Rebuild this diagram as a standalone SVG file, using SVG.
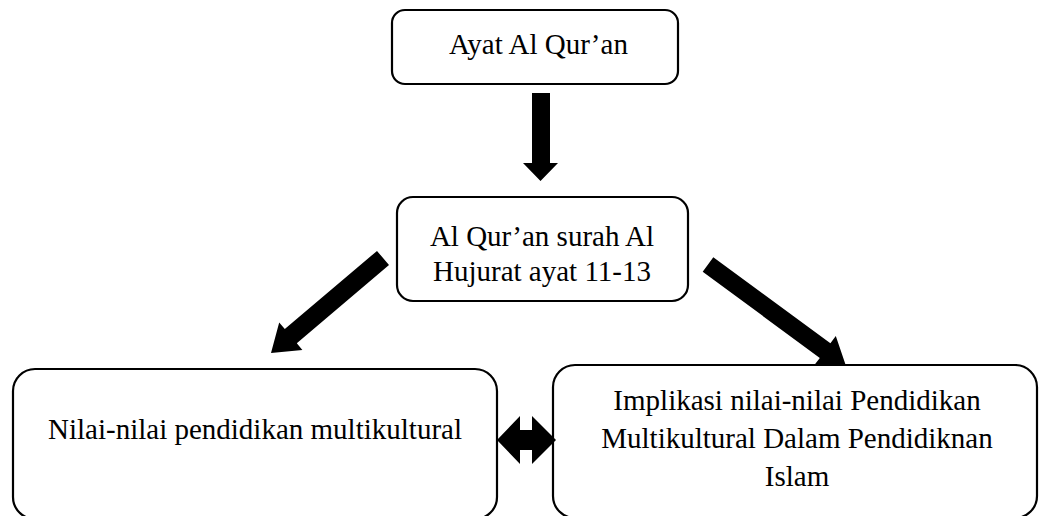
<svg xmlns="http://www.w3.org/2000/svg" width="1040" height="516" viewBox="0 0 1040 516">
<style>
.box{fill:#fff;stroke:#000;stroke-width:2.2}
.t{font-family:"Liberation Serif","Times New Roman",serif;font-size:29px;fill:#000;text-anchor:middle}
.arr{fill:#000;stroke:none}
</style>
<rect width="1040" height="516" fill="#fff"/>
<g id="node-ayat">
<rect class="box" x="392" y="10" width="286" height="74" rx="13"/>
<text class="t" x="538.5" y="54">Ayat Al Qur’an</text>
</g>
<g id="node-hujurat">
<rect class="box" x="397" y="197" width="291" height="104" rx="16"/>
<text class="t" x="542" y="246">Al Qur’an surah Al</text>
<text class="t" x="542" y="281">Hujurat ayat 11-13</text>
</g>
<g id="node-nilai">
<rect class="box" x="13" y="369" width="484" height="150" rx="22"/>
<text class="t" x="255" y="439">Nilai-nilai pendidikan multikultural</text>
</g>
<g id="node-implikasi">
<rect class="box" x="553" y="365" width="484" height="153" rx="22"/>
<text class="t" x="797" y="410">Implikasi nilai-nilai Pendidikan</text>
<text class="t" x="797" y="448">Multikultural Dalam Pendidiknan</text>
<text class="t" x="797" y="486">Islam</text>
</g>
<g id="connectors">
<polygon class="arr" points="532,93 550,93 550,163 558,163 540.5,181 523,163 532,163"/>
<polygon class="arr" points="377,250.9 284.8,329.1 279.2,322.5 271,353 302.4,349.9 296.8,343.3 389,265.1"/>
<polygon class="arr" points="713.3,257.25 830.4,343.3 835.8,336.1 846,366 814.4,365.1 819.8,357.9 702.7,271.75"/>
<polygon class="arr" points="497,440 520,416 520,430 532,430 532,416 556,440 532,464 532,450 520,450 520,464"/>
</g>
</svg>
